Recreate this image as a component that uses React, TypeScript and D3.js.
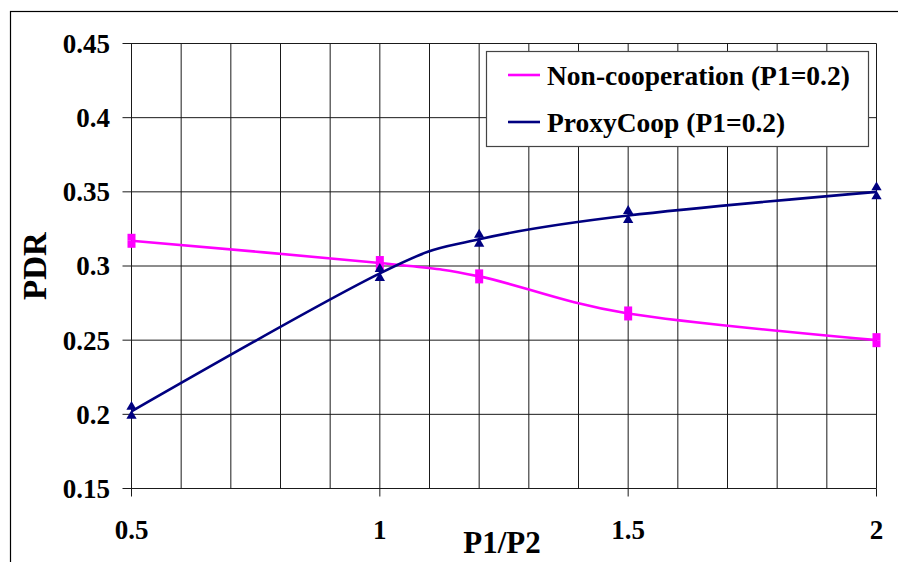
import * as d3 from "d3";
import { useEffect, useRef } from "react";

// P1/P2 values on the x axis
const ratios = [0.5, 1, 1.2, 1.5, 2];
// PDR for each series
const nonCoop = [0.317, 0.302, 0.293, 0.268, 0.25];
const proxyCoop = [0.202, 0.295, 0.318, 0.334, 0.35];
const seriesNames = ["Non-cooperation (P1=0.2)", "ProxyCoop (P1=0.2)"];
const seriesColors = ["#FF00FF", "#000080"];
const yTicks = [0.15, 0.2, 0.25, 0.3, 0.35, 0.4, 0.45];
const xLabels = [0.5, 1, 1.5, 2];

const App = () => {
  const ref: any = useRef();

  useEffect(() => {
    if (!ref.current) return;
    ref.current.innerHTML = "";
    const font = "Liberation Serif, Times New Roman, serif";

    const svg = d3.select(ref.current);

    // frame round the whole picture
    svg.append("rect")
      .attr("x", 10.5).attr("y", 11.5)
      .attr("width", 1000).attr("height", 1000)
      .attr("fill", "white").attr("stroke", "#000").attr("stroke-width", 1.2);

    const left = 131.5, right = 876.5, top = 43.5, bottom = 488.5;
    const x = d3.scaleLinear().domain([0.5, 2]).range([left, right]);
    const y = d3.scaleLinear().domain([0.15, 0.45]).range([bottom, top]);

    // vertical grid every 0.1
    const gx = d3.range(5, 21).map((d) => d / 10);
    svg.append("g").selectAll("line").data(gx).join("line")
      .attr("x1", (d) => x(d)).attr("x2", (d) => x(d))
      .attr("y1", top).attr("y2", bottom)
      .attr("stroke", "#1a1a1a").attr("stroke-width", 1);

    // horizontal grid
    svg.append("g").selectAll("line").data(yTicks).join("line")
      .attr("x1", left - 9).attr("x2", right)
      .attr("y1", (d) => y(d)).attr("y2", (d) => y(d))
      .attr("stroke", "#1a1a1a").attr("stroke-width", 1);

    // bottom tick marks at labelled values
    svg.append("g").selectAll("line").data(xLabels).join("line")
      .attr("x1", (d) => x(d)).attr("x2", (d) => x(d))
      .attr("y1", bottom).attr("y2", bottom + 8)
      .attr("stroke", "#1a1a1a");

    // y tick labels
    svg.append("g").selectAll("text").data(yTicks).join("text")
      .attr("x", 110).attr("y", (d) => y(d))
      .attr("dy", "0.35em")
      .attr("text-anchor", "end")
      .style("font-family", font).attr("font-weight", "bold").attr("font-size", 27)
      .text((d) => d3.format("")(d));

    // x tick labels
    svg.append("g").selectAll("text").data(xLabels).join("text")
      .attr("x", (d) => x(d)).attr("y", 539)
      .attr("text-anchor", "middle")
      .style("font-family", font).attr("font-weight", "bold").attr("font-size", 27)
      .text((d) => String(d));

    // axis titles
    svg.append("text")
      .attr("transform", "translate(46,266) rotate(-90)")
      .attr("text-anchor", "middle")
      .style("font-family", font).attr("font-weight", "bold").attr("font-size", 33)
      .text("PDR");
    svg.append("text")
      .attr("x", 502).attr("y", 553)
      .attr("text-anchor", "middle")
      .style("font-family", font).attr("font-weight", "bold").attr("font-size", 31)
      .text("P1/P2");

    const line = d3.line<number>()
      .x((d, i) => x(ratios[i]))
      .y((d) => y(d))
      .curve(d3.curveCardinal.tension(0));

    [nonCoop, proxyCoop].forEach((vals, s) => {
      svg.append("path")
        .datum(vals)
        .attr("d", line)
        .attr("fill", "none")
        .attr("stroke", seriesColors[s])
        .attr("stroke-width", 2.6);
    });

    // square markers (doubled, as in the original)
    const sq = svg.append("g").attr("fill", seriesColors[0]);
    nonCoop.forEach((v, i) => {
      [-3.5, 3.5].forEach((o) => {
        sq.append("rect")
          .attr("x", x(ratios[i]) - 4).attr("y", y(v) + o - 3.5)
          .attr("width", 8).attr("height", 7);
      });
    });

    // triangle markers
    const tri = svg.append("g").attr("fill", seriesColors[1]);
    const sym = d3.symbol().type(d3.symbolTriangle).size(46);
    proxyCoop.forEach((v, i) => {
      [-4.5, 4.5].forEach((o) => {
        tri.append("path")
          .attr("transform", `translate(${x(ratios[i])},${y(v) + o})`)
          .attr("d", sym());
      });
    });

    // legend
    const lg = svg.append("g");
    lg.append("rect")
      .attr("x", 486.5).attr("y", 51.5).attr("width", 382).attr("height", 95)
      .attr("fill", "white").attr("stroke", "#444").attr("stroke-width", 1.2);
    seriesNames.forEach((name, i) => {
      const cy = 75 + i * 47;
      lg.append("line")
        .attr("x1", 508).attr("x2", 540).attr("y1", cy).attr("y2", cy)
        .attr("stroke", seriesColors[i]).attr("stroke-width", 2.6);
      lg.append("text")
        .attr("x", 547).attr("y", cy).attr("dy", "0.35em")
        .style("font-family", font).attr("font-weight", "bold").attr("font-size", 27.5)
        .text(name);
    });
  }, []);

  return (
    <div style={{ position: "fixed", left: 0, top: 0 }}>
      <svg ref={ref} width={898} height={562} style={{ display: "block" }} />
    </div>
  );
};

export default App;
